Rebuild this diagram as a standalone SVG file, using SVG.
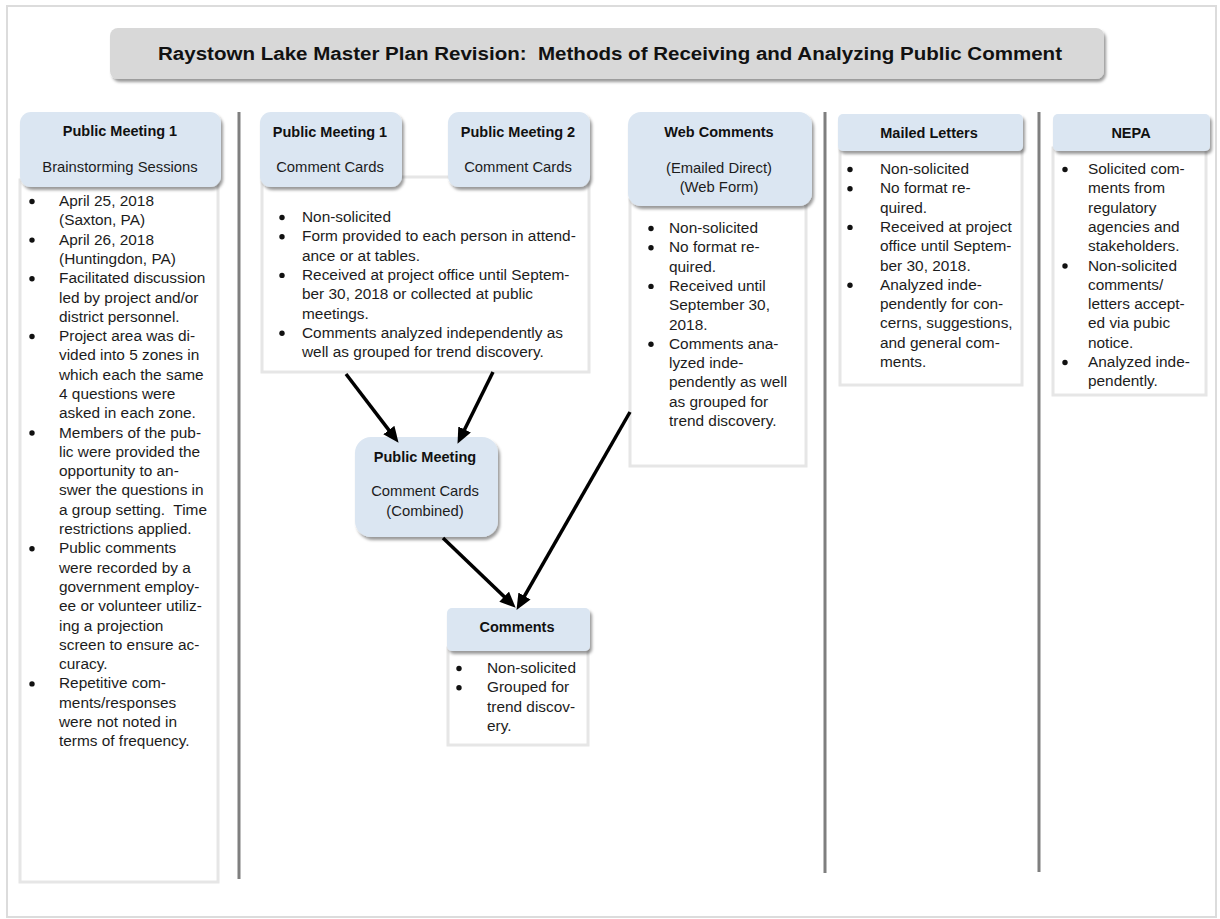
<svg xmlns="http://www.w3.org/2000/svg" width="1220" height="919" viewBox="0 0 1220 919">
<style>
  text { font-family: "Liberation Sans", Arial, sans-serif; fill: #1c1c1c; }
  .title { font-size: 18px; font-weight: bold; fill: #111; }
  .hd { font-size: 14.5px; font-weight: bold; text-anchor: middle; fill: #111; }
  .sub { font-size: 14.8px; text-anchor: middle; }
  .b { font-size: 15.4px; }
  .dot { fill: #111; }
  .hbox { fill: #dbe6f2; filter: url(#sh); }
  .panel { fill: #ffffff; stroke: #e6e6e6; stroke-width: 3; }
  .sep { stroke: #7f7f7f; stroke-width: 3; }
  .conn { stroke: #000; stroke-width: 3.5; fill: none; marker-end: url(#ah); }
</style>
<defs>
  <filter id="sh" x="-10%" y="-10%" width="125%" height="140%">
    <feDropShadow dx="2" dy="3" stdDeviation="1.5" flood-color="#000" flood-opacity="0.4"/>
  </filter>
  <marker id="ah" markerUnits="userSpaceOnUse" markerWidth="16" markerHeight="14" refX="7" refY="7" orient="auto">
    <path d="M0,0 L16,7 L0,14 z" fill="#000"/>
  </marker>
</defs>
<rect x="0" y="0" width="1220" height="919" fill="#ffffff"/>
<rect x="7" y="6" width="1209" height="911" fill="none" stroke="#dcdcdc" stroke-width="2"/>

<g id="title">
  <rect x="110" y="28" width="994" height="51" rx="8" fill="#d8d8d8" filter="url(#sh)"/>
  <text class="title" x="610" y="60" text-anchor="middle" textLength="904" lengthAdjust="spacingAndGlyphs" xml:space="preserve">Raystown Lake Master Plan Revision:  Methods of Receiving and Analyzing Public Comment</text>
</g>

<g id="separators">
  <line class="sep" x1="239" y1="112" x2="239" y2="879"/>
  <line class="sep" x1="825" y1="112" x2="825" y2="873"/>
  <line class="sep" x1="1039" y1="112" x2="1039" y2="872"/>
</g>

<g id="node-brainstorm">
  <rect class="panel" x="20" y="180" width="198" height="702"/>
  <rect class="hbox" x="20" y="112" width="201" height="75" rx="11"/>
  <text class="hd" x="120" y="136">Public Meeting 1</text>
  <text class="sub" x="120" y="172">Brainstorming Sessions</text>
  <g class="dot">
    <circle cx="32" cy="201.5" r="2.7"/>
    <circle cx="32" cy="240.1" r="2.7"/>
    <circle cx="32" cy="278.7" r="2.7"/>
    <circle cx="32" cy="336.5" r="2.7"/>
    <circle cx="32" cy="433" r="2.7"/>
    <circle cx="32" cy="548.8" r="2.7"/>
    <circle cx="32" cy="683.9" r="2.7"/>
  </g>
  <g class="b">
    <text x="59" y="206">April 25, 2018</text>
    <text x="59" y="225.3">(Saxton, PA)</text>
    <text x="59" y="244.6">April 26, 2018</text>
    <text x="59" y="263.9">(Huntingdon, PA)</text>
    <text x="59" y="283.2">Facilitated discussion</text>
    <text x="59" y="302.5">led by project and/or</text>
    <text x="59" y="321.7">district personnel.</text>
    <text x="59" y="341">Project area was di-</text>
    <text x="59" y="360.3">vided into 5 zones in</text>
    <text x="59" y="379.6">which each the same</text>
    <text x="59" y="398.9">4 questions were</text>
    <text x="59" y="418.2">asked in each zone.</text>
    <text x="59" y="437.5">Members of the pub-</text>
    <text x="59" y="456.8">lic were provided the</text>
    <text x="59" y="476.1">opportunity to an-</text>
    <text x="59" y="495.4">swer the questions in</text>
    <text x="59" y="514.7" xml:space="preserve">a group setting.  Time</text>
    <text x="59" y="534">restrictions applied.</text>
    <text x="59" y="553.3">Public comments</text>
    <text x="59" y="572.6">were recorded by a</text>
    <text x="59" y="591.9">government employ-</text>
    <text x="59" y="611.2">ee or volunteer utiliz-</text>
    <text x="59" y="630.5">ing a projection</text>
    <text x="59" y="649.8">screen to ensure ac-</text>
    <text x="59" y="669.1">curacy.</text>
    <text x="59" y="688.4">Repetitive com-</text>
    <text x="59" y="707.7">ments/responses</text>
    <text x="59" y="727">were not noted in</text>
    <text x="59" y="746.3">terms of frequency.</text>
  </g>
</g>

<g id="node-cards-panel">
  <rect class="panel" x="262" y="177" width="327" height="195"/>
  <g class="dot">
    <circle cx="282" cy="217.5" r="2.7"/>
    <circle cx="282" cy="236.8" r="2.7"/>
    <circle cx="282" cy="275.4" r="2.7"/>
    <circle cx="282" cy="333.3" r="2.7"/>
  </g>
  <g class="b">
    <text x="302" y="222">Non-solicited</text>
    <text x="302" y="241.3">Form provided to each person in attend-</text>
    <text x="302" y="260.6">ance or at tables.</text>
    <text x="302" y="279.9">Received at project office until Septem-</text>
    <text x="302" y="299.2">ber 30, 2018 or collected at public</text>
    <text x="302" y="318.5">meetings.</text>
    <text x="302" y="337.8">Comments analyzed independently as</text>
    <text x="302" y="357.1">well as grouped for trend discovery.</text>
  </g>
</g>

<g id="node-pm1-cards">
  <rect class="hbox" x="260" y="112" width="142" height="75" rx="11"/>
  <text class="hd" x="330" y="137">Public Meeting 1</text>
  <text class="sub" x="330" y="172">Comment Cards</text>
</g>

<g id="node-pm2-cards">
  <rect class="hbox" x="448" y="112" width="142" height="75" rx="11"/>
  <text class="hd" x="518" y="137">Public Meeting 2</text>
  <text class="sub" x="518" y="172">Comment Cards</text>
</g>

<g id="node-web">
  <rect class="panel" x="630" y="200" width="176" height="266"/>
  <rect class="hbox" x="628" y="112" width="184" height="94" rx="13"/>
  <text class="hd" x="719" y="137">Web Comments</text>
  <text class="sub" x="719" y="173">(Emailed Direct)</text>
  <text class="sub" x="719" y="192">(Web Form)</text>
  <g class="dot">
    <circle cx="651" cy="228.5" r="2.7"/>
    <circle cx="651" cy="247.8" r="2.7"/>
    <circle cx="651" cy="286.4" r="2.7"/>
    <circle cx="651" cy="344.3" r="2.7"/>
  </g>
  <g class="b">
    <text x="669" y="233">Non-solicited</text>
    <text x="669" y="252.3">No format re-</text>
    <text x="669" y="271.6">quired.</text>
    <text x="669" y="290.9">Received until</text>
    <text x="669" y="310.2">September 30,</text>
    <text x="669" y="329.5">2018.</text>
    <text x="669" y="348.8">Comments ana-</text>
    <text x="669" y="368.1">lyzed inde-</text>
    <text x="669" y="387.4">pendently as well</text>
    <text x="669" y="406.7">as grouped for</text>
    <text x="669" y="426">trend discovery.</text>
  </g>
</g>

<g id="node-mailed">
  <rect class="panel" x="840" y="148" width="182" height="237"/>
  <rect class="hbox" x="838" y="114" width="185" height="37" rx="5"/>
  <text class="hd" x="929" y="138">Mailed Letters</text>
  <g class="dot">
    <circle cx="850" cy="169.5" r="2.7"/>
    <circle cx="850" cy="188.8" r="2.7"/>
    <circle cx="850" cy="227.4" r="2.7"/>
    <circle cx="850" cy="285.3" r="2.7"/>
  </g>
  <g class="b">
    <text x="880" y="174">Non-solicited</text>
    <text x="880" y="193.3">No format re-</text>
    <text x="880" y="212.6">quired.</text>
    <text x="880" y="231.9">Received at project</text>
    <text x="880" y="251.2">office until Septem-</text>
    <text x="880" y="270.5">ber 30, 2018.</text>
    <text x="880" y="289.8">Analyzed inde-</text>
    <text x="880" y="309.1">pendently for con-</text>
    <text x="880" y="328.4">cerns, suggestions,</text>
    <text x="880" y="347.7">and general com-</text>
    <text x="880" y="367">ments.</text>
  </g>
</g>

<g id="node-nepa">
  <rect class="panel" x="1053" y="148" width="153" height="247"/>
  <rect class="hbox" x="1053" y="114" width="157" height="37" rx="5"/>
  <text class="hd" x="1131" y="138">NEPA</text>
  <g class="dot">
    <circle cx="1065" cy="169.5" r="2.7"/>
    <circle cx="1065" cy="266" r="2.7"/>
    <circle cx="1065" cy="362.5" r="2.7"/>
  </g>
  <g class="b">
    <text x="1088" y="174">Solicited com-</text>
    <text x="1088" y="193.3">ments from</text>
    <text x="1088" y="212.6">regulatory</text>
    <text x="1088" y="231.9">agencies and</text>
    <text x="1088" y="251.2">stakeholders.</text>
    <text x="1088" y="270.5">Non-solicited</text>
    <text x="1088" y="289.8">comments/</text>
    <text x="1088" y="309.1">letters accept-</text>
    <text x="1088" y="328.4">ed via pubic</text>
    <text x="1088" y="347.7">notice.</text>
    <text x="1088" y="367">Analyzed inde-</text>
    <text x="1088" y="386.3">pendently.</text>
  </g>
</g>

<g id="node-combined">
  <rect class="hbox" x="355" y="437" width="143" height="100" rx="16"/>
  <text class="hd" x="425" y="462">Public Meeting</text>
  <text class="sub" x="425" y="496">Comment Cards</text>
  <text class="sub" x="425" y="516">(Combined)</text>
</g>

<g id="node-comments">
  <rect class="panel" x="448" y="648" width="140" height="97"/>
  <rect class="hbox" x="447" y="608" width="143" height="43" rx="5"/>
  <text class="hd" x="517" y="632">Comments</text>
  <g class="dot">
    <circle cx="459" cy="668.5" r="2.7"/>
    <circle cx="459" cy="687.8" r="2.7"/>
  </g>
  <g class="b">
    <text x="487" y="673">Non-solicited</text>
    <text x="487" y="692.3">Grouped for</text>
    <text x="487" y="711.6">trend discov-</text>
    <text x="487" y="730.9">ery.</text>
  </g>
</g>

<g id="connectors">
  <line class="conn" x1="346" y1="374" x2="393.1" y2="435.6"/>
  <line class="conn" x1="493" y1="372" x2="461.5" y2="435.8"/>
  <line class="conn" x1="630" y1="412" x2="521" y2="602.1"/>
  <line class="conn" x1="443" y1="538" x2="509.2" y2="601.5"/>
</g>
</svg>
